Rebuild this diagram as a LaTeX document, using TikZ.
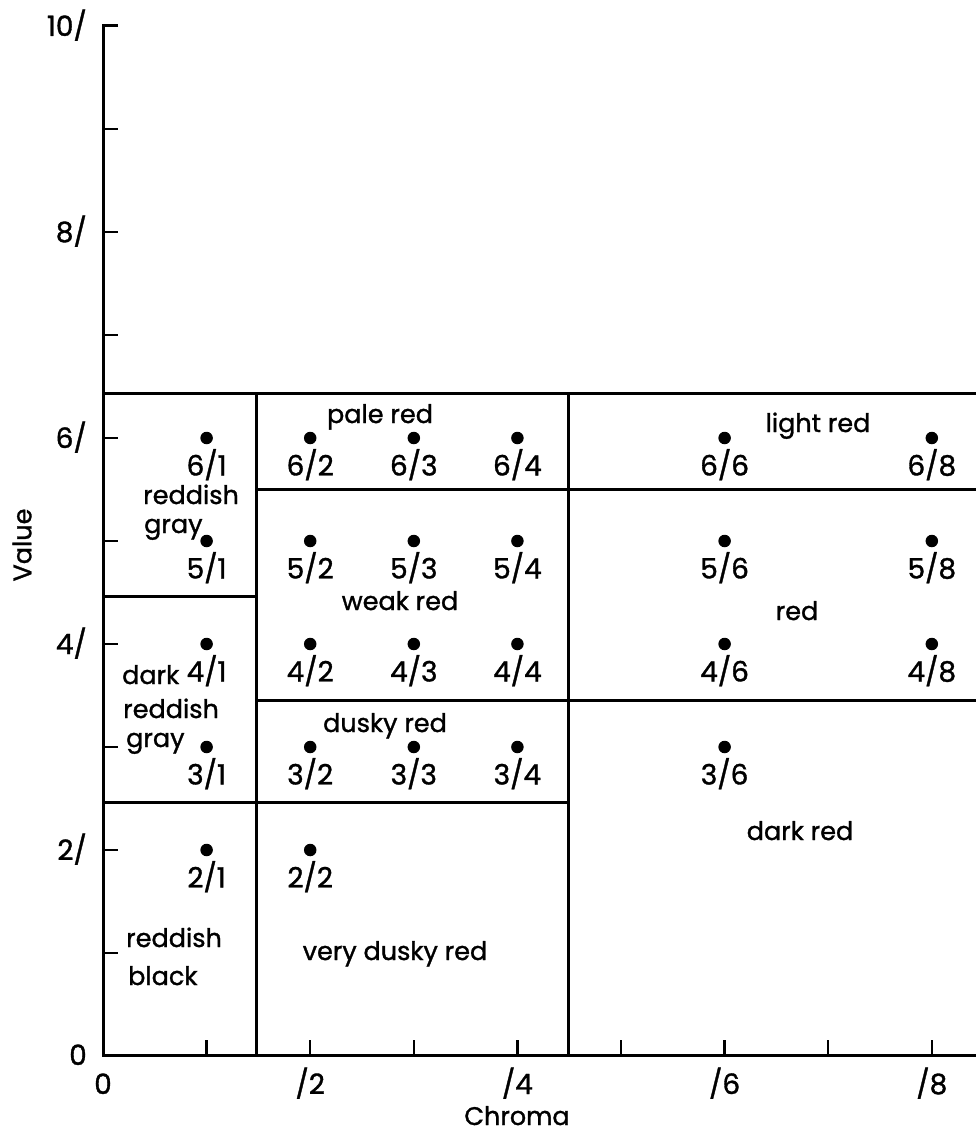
\documentclass[tikz,border=0pt]{standalone}
\usepackage{fontspec}
\setmainfont{Poppins}[FakeBold=1.2]
\begin{document}
\begin{tikzpicture}[x=1pt,y=-1pt,
  ln/.style={line width=3pt},
  tk/.style={line width=2.4pt},
  dotmark/.style={circle,fill=black,inner sep=0pt,minimum size=12.5pt},
  txt/.style={font=\fontsize{25.5}{30}\selectfont,inner sep=0pt},
  num/.style={font=\fontsize{28}{32}\selectfont,inner sep=0pt},
]
\useasboundingbox (0,0) rectangle (976,1134);
% axes
\draw[ln] (118,26) -- (103,26) -- (103,1055) -- (976,1055);
\foreach \v in {1,...,9} \draw[tk] (103,{1056-103*\v}) -- ++(15,0);
\foreach \c in {1,...,8} \draw[tk] ({103+103.6*\c},1055) -- ++(0,-15);
% region boundaries
\draw[ln] (103,393) -- (976,393);
\draw[ln] (256,393) -- (256,1055);
\draw[ln] (568,393) -- (568,1055);
\draw[ln] (103,596) -- (256,596);
\draw[ln] (103,802) -- (568,802);
\draw[ln] (256,489) -- (976,489);
\draw[ln] (256,700) -- (976,700);
% axis labels
\foreach \v in {2,4,6,8,10} \node[num,anchor=base east] (yl\v) at (87,{1056-103*\v+10}) {\v/};
\node[num,anchor=base east] (yl0) at (87,1065) {0};
\node[num,anchor=base] (xl0) at (103,1094) {0};
\foreach \c in {2,4,6,8} \node[num,anchor=base] (xl\c) at ({103+103.6*\c},1094) {/\c};
\node[txt,anchor=base] (chroma) at (517,1125) {Chroma};
\node[txt,rotate=90] (value) at (22,545) {Value};
% samples
\foreach \v/\c in {6/1,5/1,4/1,3/1,2/1,6/2,5/2,4/2,3/2,2/2,6/3,5/3,4/3,3/3,6/4,5/4,4/4,3/4,6/6,5/6,4/6,3/6,6/8,5/8,4/8} {
  \node[dotmark] (d\v\c) at ({103+103.6*\c},{1056-103*\v}) {};
  \node[num,anchor=base] (l\v\c) at ([yshift=-37.5pt]d\v\c.center) {\v/\c};
}
% region names
\node[txt,anchor=base] (palered) at (380,423) {pale red};
\node[txt,anchor=base] (lightred) at (818,432) {light red};
\node[txt,anchor=base west] (rgA) at (143,504) {reddish};
\node[txt,anchor=base west] (rgB) at (144,533) {gray};
\node[txt,anchor=base] (weakred) at (400,610) {weak red};
\node[txt,anchor=base] (red) at (797,620) {red};
\node[txt,anchor=base west] (dark) at (122,684) {dark};
\node[txt,anchor=base west] (drgA) at (123,718) {reddish};
\node[txt,anchor=base west] (drgB) at (126,747) {gray};
\node[txt,anchor=base] (duskyred) at (385,732) {dusky red};
\node[txt,anchor=base] (darkred) at (800,840) {dark red};
\node[txt,anchor=base west] (rbA) at (126,947) {reddish};
\node[txt,anchor=base west] (rbB) at (128,985) {black};
\node[txt,anchor=base] (vdr) at (395,960) {very dusky red};
\end{tikzpicture}
\end{document}
